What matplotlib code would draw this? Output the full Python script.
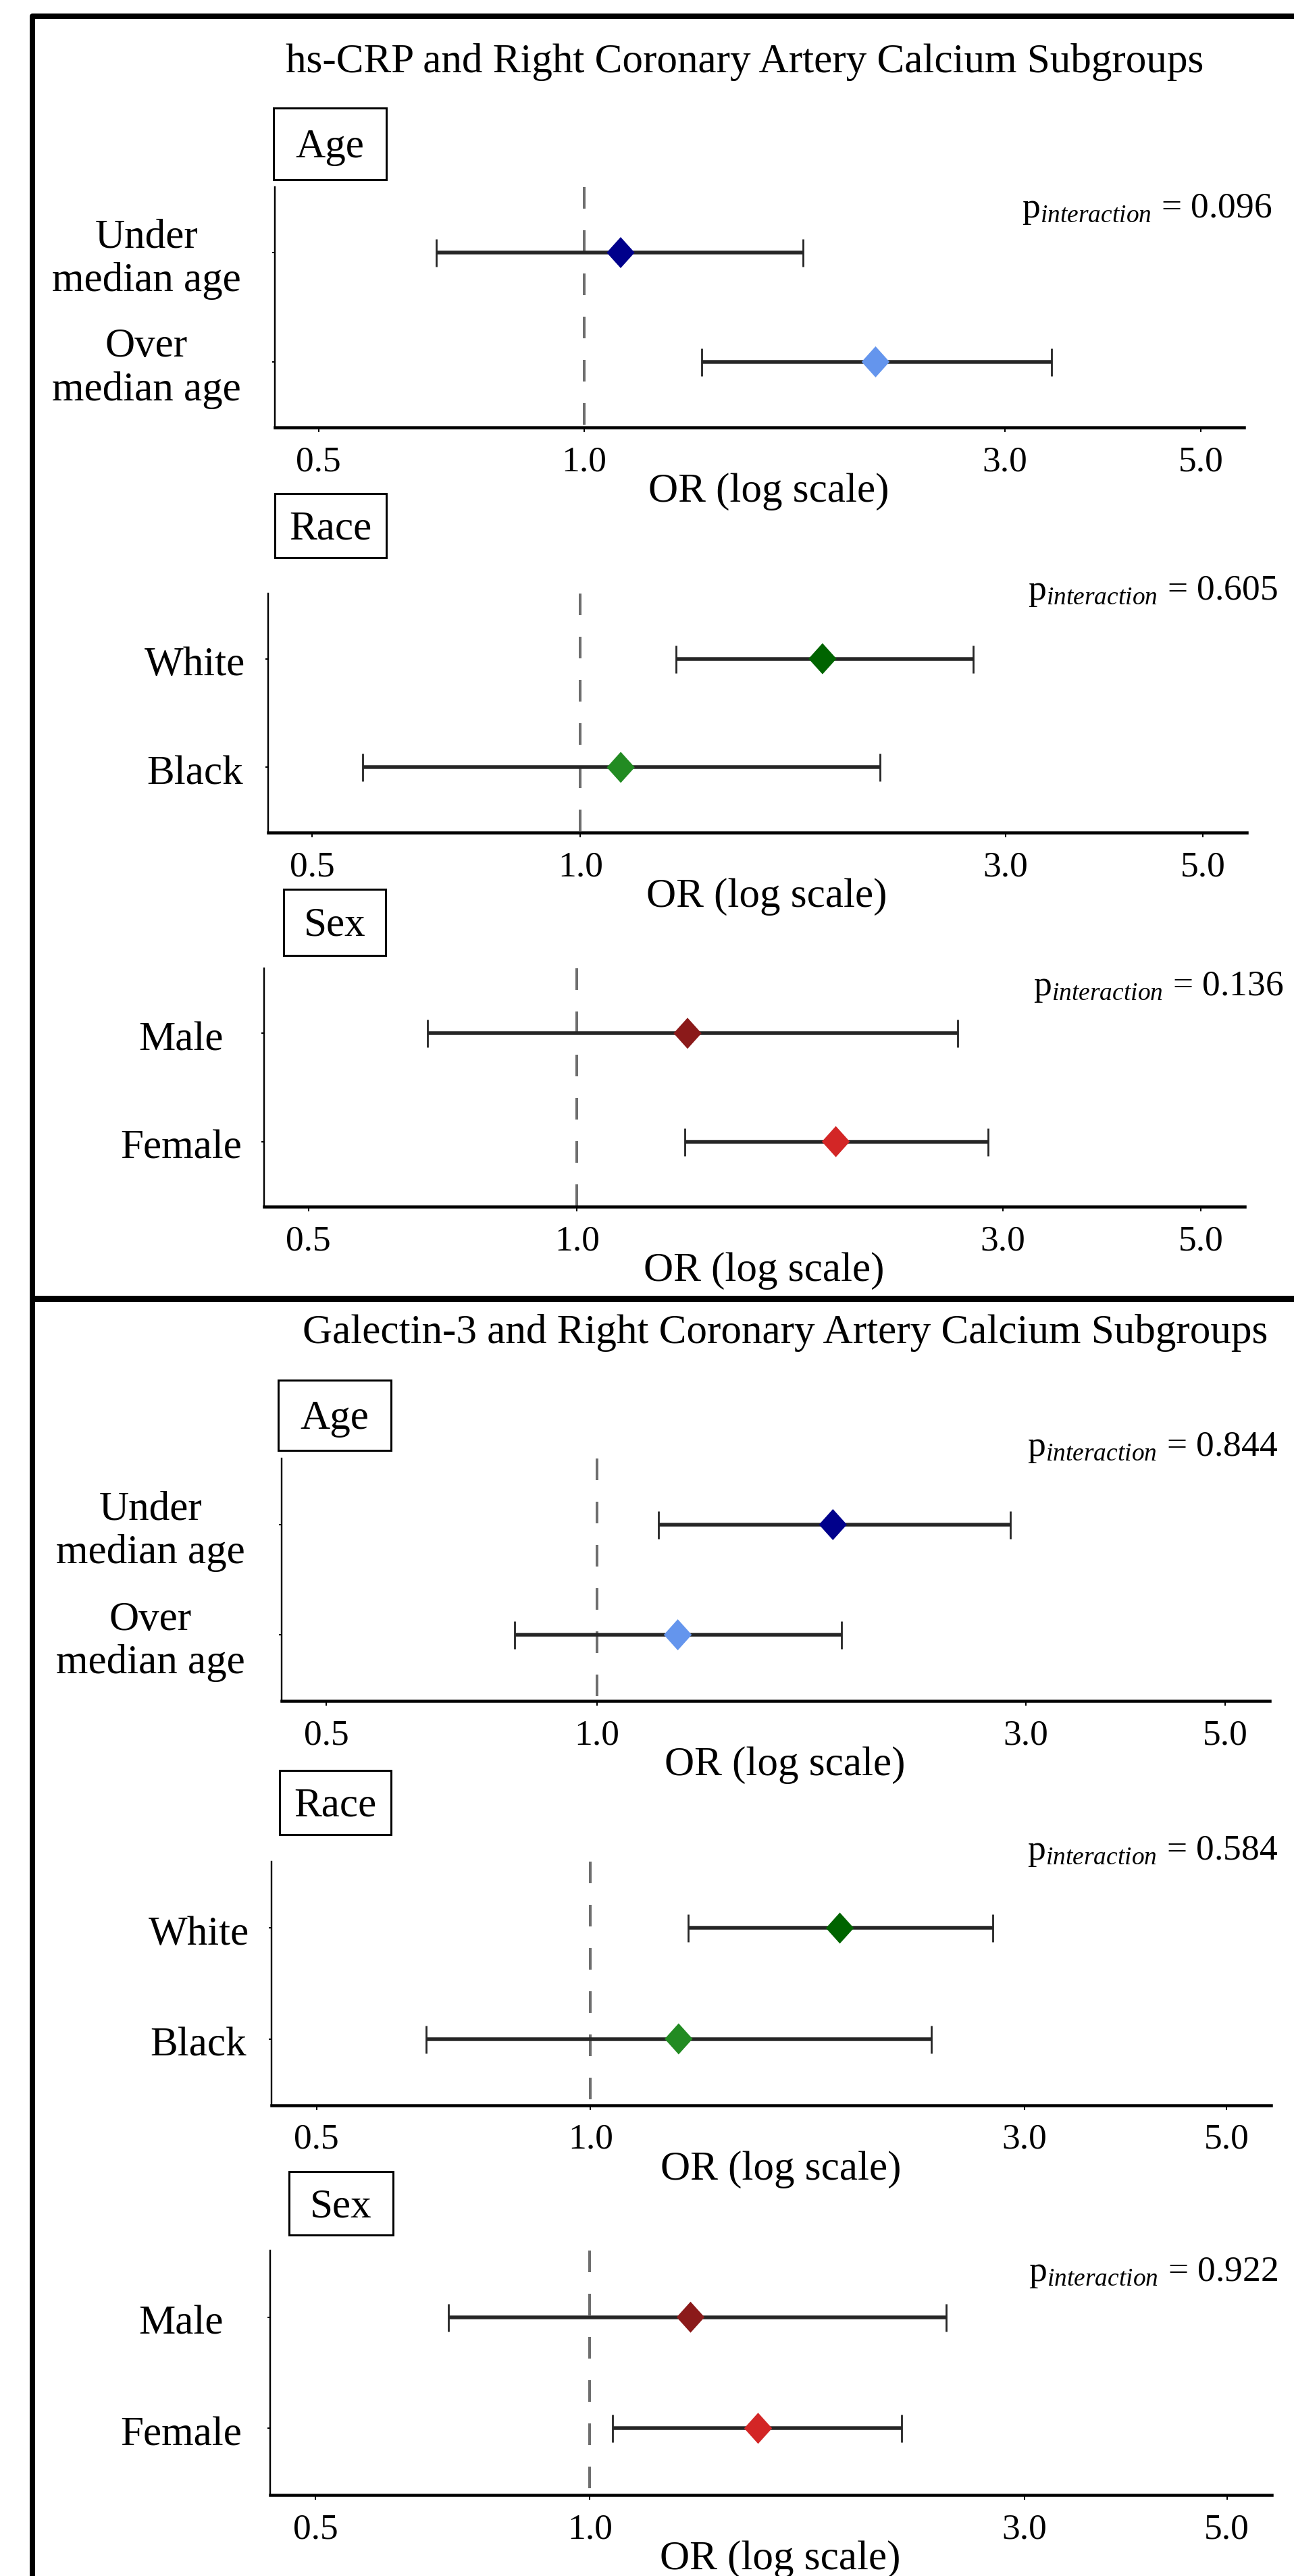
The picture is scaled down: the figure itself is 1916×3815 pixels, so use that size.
import numpy as np
import matplotlib
matplotlib.use("Agg")
import matplotlib.pyplot as plt
import matplotlib.transforms as mtransforms
from matplotlib.lines import Line2D
from matplotlib.patches import Rectangle
from matplotlib.ticker import NullLocator

plt.rcParams['font.family'] = ['Liberation Serif', 'DejaVu Serif']
plt.rcParams['mathtext.fontset'] = 'custom'
plt.rcParams['mathtext.rm'] = 'Liberation Serif'
plt.rcParams['mathtext.it'] = 'Liberation Serif:italic'
plt.rcParams['lines.scale_dashes'] = False

# ---- data ----
titles = ['hs-CRP and Right Coronary Artery Calcium Subgroups',
          'Galectin-3 and Right Coronary Artery Calcium Subgroups']
groups = ['Age', 'Race', 'Sex']
row_labels = [['Under\nmedian age', 'Over\nmedian age'],
              ['White', 'Black'],
              ['Male', 'Female']]
row_colors = [['#00008B', '#6495ED'],
              ['#006400', '#228B22'],
              ['#8B1A1A', '#D32626']]
x_ticks = [0.5, 1.0, 3.0, 5.0]
x_ticklabels = ['0.5', '1.0', '3.0', '5.0']

crp_or = [[1.10, 2.14], [1.87, 1.11], [1.33, 1.95]]
crp_lo = [[0.68, 1.36], [1.28, 0.57], [0.68, 1.32]]
crp_hi = [[1.77, 3.39], [2.76, 2.17], [2.67, 2.89]]
crp_p = ['0.096', '0.605', '0.136']

gal_or = [[1.83, 1.23], [1.88, 1.25], [1.29, 1.53]]
gal_lo = [[1.17, 0.81], [1.28, 0.66], [0.70, 1.06]]
gal_hi = [[2.88, 1.87], [2.77, 2.37], [2.46, 2.20]]
gal_p = ['0.844', '0.584', '0.922']

# ---- layout (pixels) ----
W, H, DPI = 1916, 3815, 100
# axes box (l, t, r, b), y-label centre x, group box (x0, y0, x1, y1), p-text right x, p baseline y
panels = [
    ((407, 277, 1842, 633), 217, (405, 160, 572, 266), 1883, 322),
    ((397, 879, 1846, 1233), 289, (407, 731, 572, 826), 1892, 888),
    ((391, 1434, 1843, 1787), 268, (420, 1317, 571, 1415), 1900, 1474),
    ((417, 2160, 1880, 2519), 223, (412, 2044, 579, 2148), 1892, 2156),
    ((402, 2757, 1882, 3118), 294, (414, 2622, 579, 2717), 1892, 2754),
    ((400, 3333, 1883, 3695), 268, (428, 3216, 582, 3310), 1892, 3378),
]
title_pos = [(1103, 107), (1163, 1989)]


def pt(px):
    return px * 72.0 / DPI


def fx(px):
    return px / W


def fy(py):
    return 1 - py / H


fig = plt.figure(figsize=(W / DPI, H / DPI), dpi=DPI)

diamond = [(0, 1), (0.9, 0), (0, -1), (-0.9, 0), (0, 1)]
ypos = [2, 1]

all_or = crp_or + gal_or
all_lo = crp_lo + gal_lo
all_hi = crp_hi + gal_hi
all_p = crp_p + gal_p

for i, (box, lab_cx, gbox, p_x, p_y) in enumerate(panels):
    g = i % 3
    l, t, r, b = box
    ax = fig.add_axes([fx(l), fy(b), (r - l) / W, (b - t) / H])
    ax.set_xscale('log')
    ax.set_xlim(0.446, 5.6)
    ax.set_ylim(0.4, 2.6)

    ors = np.array(all_or[i])
    los = np.array(all_lo[i])
    his = np.array(all_hi[i])

    # reference line at OR = 1
    ax.plot([1, 1], [2.6, 0.4], color='#6e6e6e', lw=pt(4),
            dashes=(pt(32), pt(32)), zorder=1)
    ax.errorbar(ors, ypos, xerr=[ors - los, his - ors], fmt='none',
                ecolor='#262626', elinewidth=pt(5.5), capsize=pt(20.5),
                capthick=pt(2.8), zorder=2)
    ax.scatter(ors, ypos, marker=diamond, s=pt(46) ** 2,
               c=row_colors[g], linewidths=0, zorder=3)

    for s in ['top', 'right']:
        ax.spines[s].set_visible(False)
    ax.spines['left'].set_linewidth(pt(2.4))
    ax.spines['bottom'].set_linewidth(pt(4.5))

    ax.set_xticks(x_ticks)
    ax.set_xticklabels(x_ticklabels)
    ax.xaxis.set_minor_locator(NullLocator())
    ax.tick_params(axis='x', length=pt(7), width=pt(2), pad=pt(20),
                   labelsize=38.5)

    ax.set_yticks(ypos)
    ax.set_yticklabels(row_labels[g], ha='center', va='center')
    ax.tick_params(axis='y', length=pt(4), width=pt(2),
                   pad=pt(l - lab_cx - 4), labelsize=44)
    shift = mtransforms.ScaledTranslation(0, -10.0 / DPI, fig.dpi_scale_trans)
    for lab in ax.get_yticklabels():
        lab.set_transform(lab.get_transform() + shift)

    ax.set_xlabel('OR (log scale)', fontsize=44)
    ax.xaxis.set_label_coords(0.5 + 14.0 / (r - l), -110.0 / (b - t))
    ax.xaxis.label.set_va('baseline')

    # group label box
    x0, y0, x1, y1 = gbox
    fig.add_artist(Rectangle((fx(x0), fy(y1)), (x1 - x0) / W, (y1 - y0) / H,
                             transform=fig.transFigure, fill=False,
                             ec='black', lw=pt(3)))
    fig.text(fx((x0 + x1) / 2), fy((y0 + y1) / 2 + 20), groups[g],
             ha='center', va='baseline', fontsize=44)

    fig.text(fx(p_x), fy(p_y), r'$\mathrm{p}_{interaction}$ = ' + all_p[i],
             ha='right', va='baseline', fontsize=38.5)

for (tx, ty), title in zip(title_pos, titles):
    fig.text(fx(tx), fy(ty), title, ha='center', va='baseline', fontsize=44)

# outer frame and separator
fig.add_artist(Line2D([fx(48), fx(48), 1.0], [0.0, fy(24), fy(24)],
                      transform=fig.transFigure, color='black', lw=pt(8),
                      solid_joinstyle='round'))
fig.add_artist(Line2D([fx(48), 1.0], [fy(1923), fy(1923)],
                      transform=fig.transFigure, color='black', lw=pt(9)))

fig.savefig('out.png', dpi=DPI, facecolor='white')
